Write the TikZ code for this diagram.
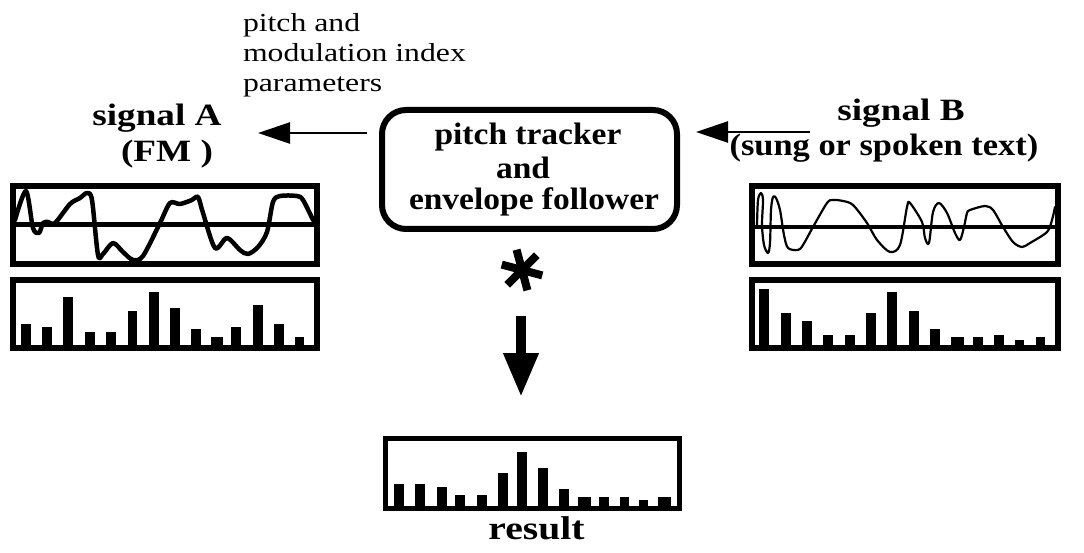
\documentclass[tikz,border=0pt]{standalone}
\usepackage{fontspec}
\setmainfont{Liberation Serif}
\newfontfamily\plainlab[FakeStretch=1.22]{Liberation Serif}
\newfontfamily\boldlab[FakeStretch=1.2]{Liberation Serif}
\newfontfamily\boldlabn[FakeStretch=1.11]{Liberation Serif}
\newfontfamily\boxfont[FakeStretch=1.08]{Liberation Serif}
\usetikzlibrary{arrows.meta}
\tikzset{
  frame/.style={draw, line width=6pt, inner sep=0pt, outer sep=0pt},
  rframe/.style={draw, line width=5pt, inner sep=0pt, outer sep=0pt},
  txt/.style={inner sep=0pt, outer sep=0pt},
  axisline/.style={line width=5pt},
  wavethick/.style={line width=4.5pt, line join=round, line cap=round},
  wavethin/.style={line width=2.2pt, line join=round, line cap=round},
  thinarrow/.style={line width=2.5pt, -{Triangle[length=32pt,width=21pt]}},
  bigarrow/.style={line width=10pt, -{Triangle[length=44pt,width=33pt]}},
  spoke/.style={line width=8pt},
}
\begin{document}
\begin{tikzpicture}[x=1pt,y=-1pt]
\useasboundingbox (0,0) rectangle (1084,553);

% top-left parameter label (base = last line)
\node[txt, anchor=base west, align=left, font={\plainlab\fontsize{26}{30}\selectfont}] (params) at (243,92)
  {pitch and\\modulation index\\parameters};

% signal labels
\node[txt, anchor=base] (sigA) at (157,126) {\boldlab\bfseries\fontsize{31}{35}\selectfont signal A};
\node[txt, anchor=base] (sigAb) at (167,162) {\boldlab\bfseries\fontsize{31}{35}\selectfont (FM )};
\node[txt, anchor=base] (sigB) at (901,121) {\boldlab\bfseries\fontsize{31}{35}\selectfont signal B};
\node[txt, anchor=base] (sigBb) at (884,156) {\boldlabn\bfseries\fontsize{31}{35}\selectfont (sung or spoken text)};

% tracker box
\node[frame, rounded corners=24pt, minimum width=295pt, minimum height=119pt] (tracker) at (529.5,169.5) {};
\node[txt, anchor=base] (t1) at (528,145) {\boxfont\bfseries\fontsize{31}{35}\selectfont pitch tracker};
\node[txt, anchor=base] (t2) at (523,179) {\boxfont\bfseries\fontsize{31}{35}\selectfont and};
\node[txt, anchor=base west] (t3) at (409,210) {\boxfont\bfseries\fontsize{31}{35}\selectfont envelope follower};

% side arrows
\coordinate (aLs) at (367,133);
\coordinate (aLe) at (258,133);
\coordinate (aRs) at (810,132);
\coordinate (aRe) at (696,132);
\draw[thinarrow] (aLs) -- (aLe);
\draw[thinarrow] (aRs) -- (aRe);

% signal A wave box
\node[frame, minimum width=304pt, minimum height=78pt] (waveA) at (165,225) {};
\draw[axisline] (waveA.west) -- (waveA.east);
\draw[wavethick] plot[smooth, tension=0.5] coordinates {
 (15,220) (26,191) (33,228) (39,233) (43,223) (48,222) (55,223) (70,204) (80,198) (87,193)
 (92,200) (98,255) (103,254) (113,243) (123,252) (133,260) (143,256) (160,223) (170,203)
 (180,204) (192,200) (198,197) (203,213) (215,248) (227,238) (240,250) (248,254) (258,247)
 (267,232) (273,202) (280,196) (297,196) (303,200) (313,220)};

% signal A spectrum
\node[frame, minimum width=304pt, minimum height=68pt] (barsA) at (165,314) {};
\foreach \a/\b/\t in {21/31/324, 42/52/327, 63/73/297, 85/95/332, 106/116/332, 128/137/311,
  149/159/292, 170/180/308, 191/201/329, 211/223/337, 231/241/327, 253/263/305, 274/284/324, 295/304/337}
  \fill (\a,345) rectangle (\b,\t);

% signal B wave box
\node[frame, minimum width=306pt, minimum height=78pt] (waveB) at (905,225) {};
\draw[line width=4pt] ([yshift=-2pt]waveB.west) -- ([yshift=-2pt]waveB.east);
\draw[wavethin] plot[smooth, tension=0.5] coordinates {
 (757,225) (758,200) (761,193) (763,200) (762,225) (764,245) (768,253) (770,243) (771,210)
 (773,197) (776,198) (780,210) (784,235) (788,248) (798,250) (803,245) (813,227) (827,203)
 (833,200) (843,201) (853,205) (867,223) (877,240) (890,252) (900,245) (907,207) (910,203)
 (922,222) (925,238) (929,243) (933,212) (939,203) (947,213) (955,233) (960,240) (964,227)
 (967,213) (970,210) (985,206) (993,210) (1003,227) (1013,242) (1022,247) (1030,243)
 (1047,232) (1052,220) (1055,207)};

% signal B spectrum
\node[frame, minimum width=306pt, minimum height=68pt] (barsB) at (905,314) {};
\foreach \a/\b/\t in {759/769/289, 781/791/313, 802/812/321, 823/833/335, 845/855/335, 866/876/313,
  887/897/292, 909/919/311, 930/940/329, 951/964/337, 973/983/337, 994/1004/335, 1015/1024/340, 1036/1045/337}
  \fill (\a,345) rectangle (\b,\t);

% asterisk
\coordinate (ast) at (522,270);
\foreach \ang in {15,75,135,195,255,315}
  \draw[spoke] (ast) -- ++(\ang:-21);

% down arrow
\coordinate (dS) at (521,316);
\coordinate (dE) at (521,397);
\draw[bigarrow] (dS) -- (dE);

% result spectrum
\node[rframe, minimum width=294pt, minimum height=70pt] (res) at (532.5,473.5) {};
\foreach \a/\b/\t in {394/404/484, 415/425/484, 437/447/487, 455/465/495, 477/487/495, 498/508/473,
  517/527/452, 538/548/468, 559/569/489, 578/591/497, 599/609/497, 620/629/497, 639/648/500, 658/671/497}
  \fill (\a,506) rectangle (\b,\t);
\node[txt, anchor=base] (resl) at (536.5,539) {\boldlab\bfseries\fontsize{33}{36}\selectfont result};
\end{tikzpicture}
\end{document}
